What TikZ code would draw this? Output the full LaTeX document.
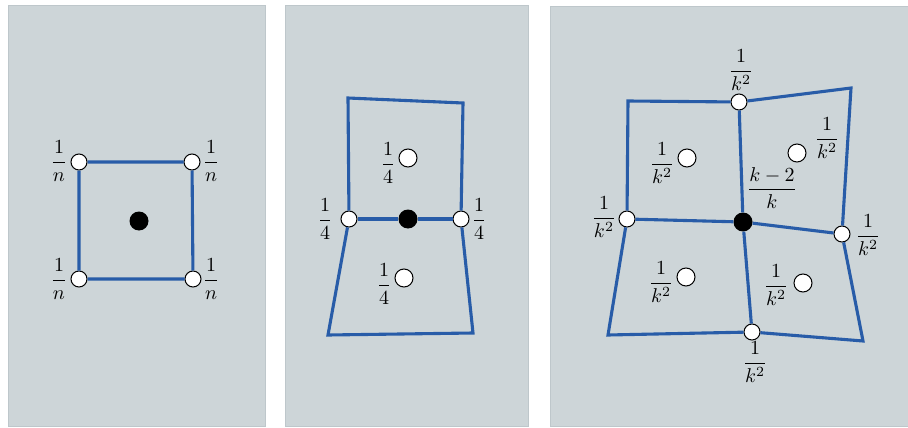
\documentclass[tikz,border=0pt]{standalone}
\usepackage{amsmath}
\definecolor{panelgray}{RGB}{205,213,216}
\definecolor{paneledge}{RGB}{190,199,203}
\definecolor{meshblue}{RGB}{40,92,168}
\begin{document}
\begin{tikzpicture}[
    x=1pt,y=-1pt,
    panel/.style={fill=panelgray,draw=paneledge,line width=0.8pt},
    edge/.style={draw=meshblue,line width=3.1pt,line join=miter},
    vert/.style={circle,draw=black,fill=white,line width=1pt,inner sep=0pt,minimum size=16pt},
    wgt/.style={circle,draw=black,fill=white,line width=1pt,inner sep=0pt,minimum size=18pt},
    hub/.style={circle,fill=black,inner sep=0pt,minimum size=19pt},
    lbl/.style={inner sep=0pt,scale=2}
]
\useasboundingbox (0,0) rectangle (908,428);
\fill[white] (0,0) rectangle (908,428);
\path[panel] (8,5) rectangle (265,426);
\path[panel] (285,5) rectangle (528,426);
\path[panel] (550,6) rectangle (912,426);

% left panel: plain cell
\node[vert] (atl) at (79,162) {};
\node[vert] (atr) at (192,162) {};
\node[vert] (abl) at (79,279) {};
\node[vert] (abr) at (193,279) {};
\node[hub] (ac) at (139,221) {};
\draw[edge] (atl)--(atr)--(abr)--(abl)--(atl);
\node[lbl] (latl) at (59,161) {$\dfrac{1}{n}$};
\node[lbl] (latr) at (211,161) {$\dfrac{1}{n}$};
\node[lbl] (labl) at (59,279) {$\dfrac{1}{n}$};
\node[lbl] (labr) at (211,279) {$\dfrac{1}{n}$};

% middle panel: two cells
\coordinate (btl) at (348,98);
\coordinate (btr) at (463,103);
\coordinate (bbl) at (328,335);
\coordinate (bbr) at (473,333);
\node[vert] (bl) at (349,219) {};
\node[vert] (br) at (461,219) {};
\node[hub] (bc) at (408,219) {};
\draw[edge] (bl)--(btl)--(btr)--(br);
\draw[edge] (bl)--(bbl)--(bbr)--(br);
\draw[edge] (bl)--(bc)--(br);
\node[wgt] (bu) at (408,158) {};
\node[wgt] (bd) at (404,278) {};
\node[lbl] (lbu) at (388,163) {$\dfrac{1}{4}$};
\node[lbl] (lbd) at (384,284) {$\dfrac{1}{4}$};
\node[lbl] (lbl) at (325,219) {$\dfrac{1}{4}$};
\node[lbl] (lbr) at (479,219) {$\dfrac{1}{4}$};

% right panel: four cells
\coordinate (ctl) at (628,101);
\coordinate (ctr) at (851,88);
\coordinate (cbl) at (608,335);
\coordinate (cbr) at (863,341);
\node[vert] (ct) at (739,102) {};
\node[vert] (cl) at (627,219) {};
\node[vert] (cr) at (842,234) {};
\node[vert] (cb) at (752,332) {};
\node[hub] (cc) at (743,222) {};
\draw[edge] (ct)--(ctl)--(cl)--(cbl)--(cb)--(cbr)--(cr)--(ctr)--(ct);
\draw[edge] (ct)--(cc)--(cb);
\draw[edge] (cl)--(cc)--(cr);
\node[wgt] (cul) at (687,158) {};
\node[wgt] (cur) at (797,153) {};
\node[wgt] (cdl) at (686,277) {};
\node[wgt] (cdr) at (803,283) {};
\node[lbl] (lct) at (741,70) {$\dfrac{1}{k^2}$};
\node[lbl] (lcul) at (662,163) {$\dfrac{1}{k^2}$};
\node[lbl] (lcur) at (827,138) {$\dfrac{1}{k^2}$};
\node[lbl] (lcc) at (772,188) {$\dfrac{k-2}{k}$};
\node[lbl] (lcl) at (604,217) {$\dfrac{1}{k^2}$};
\node[lbl] (lcr) at (868,235) {$\dfrac{1}{k^2}$};
\node[lbl] (lcdl) at (661,282) {$\dfrac{1}{k^2}$};
\node[lbl] (lcdr) at (776,285) {$\dfrac{1}{k^2}$};
\node[lbl] (lcb) at (755,362) {$\dfrac{1}{k^2}$};
\end{tikzpicture}
\end{document}
